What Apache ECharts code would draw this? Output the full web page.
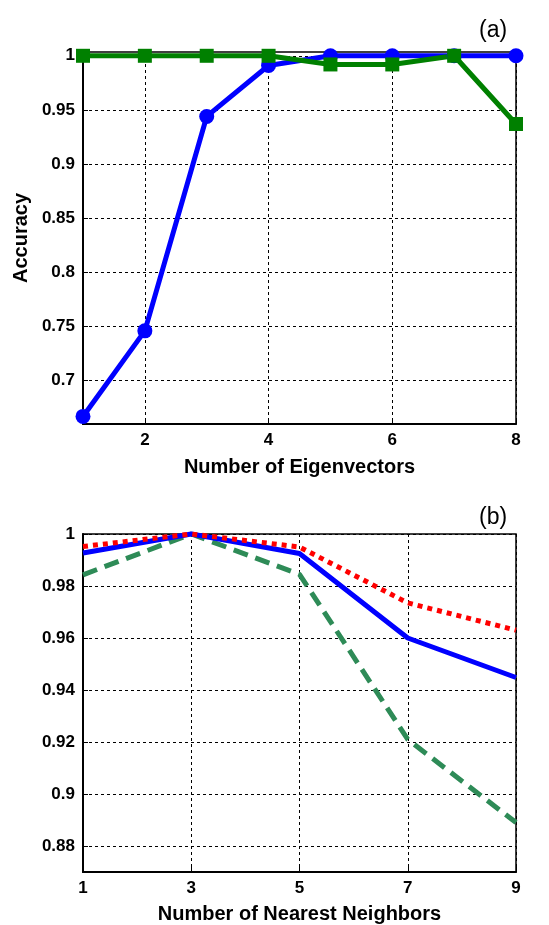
<!DOCTYPE html>
<html><head><meta charset="utf-8">
<script src="https://cdn.jsdelivr.net/npm/echarts@6/dist/echarts.min.js"></script>
<style>html,body{margin:0;padding:0;background:#fff}#c{width:549px;height:925px}</style>
</head><body><div id="c"></div>
<script>
// (a) data
const eigX = [1, 2, 3, 4, 5, 6, 7, 8];
const blueA = [0.667, 0.746, 0.944, 0.991, 1.0, 1.0, 1.0, 1.0];
const greenA = [1.0, 1.0, 1.0, 1.0, 0.992, 0.992, 1.0, 0.937];
const xTicksA = [2, 4, 6, 8];
const yTicksA = [0.7, 0.75, 0.8, 0.85, 0.9, 0.95, 1];
// (b) data
const knnX = [1, 3, 5, 7, 9];
const blueB = [0.9927, 1.0, 0.9925, 0.960, 0.9448];
const redB = [0.9952, 1.0, 0.995, 0.9735, 0.963];
const greenB = [0.9843, 1.0, 0.9845, 0.921, 0.889];
const xTicksB = [1, 3, 5, 7, 9];
const yTicksB = [0.88, 0.9, 0.92, 0.94, 0.96, 0.98, 1];

const FONT = 'Liberation Sans';
const pair = (xs, ys) => xs.map((x, i) => [x, ys[i]]);
const gridLine = {show: true, lineStyle: {color: '#000', width: 1, type: [3, 3]}};
const lbl = (vals, fmt) => ({customValues: vals, fontFamily: FONT, fontWeight: 'bold', fontSize: 17, color: '#000', margin: 8, formatter: fmt});
const tick = (vals) => ({show: true, inside: true, length: 5, customValues: vals, lineStyle: {color: '#000', width: 1}});
const axLine = {show: true, onZero: false, lineStyle: {color: '#000', width: 2}};
const nameStyle = {fontFamily: FONT, fontWeight: 'bold', fontSize: 20, color: '#000'};

const chart = echarts.init(document.getElementById('c'), null, {renderer: 'canvas'});
chart.setOption({
  animation: false,
  backgroundColor: '#fff',
  title: [
    {text: '(a)', left: 474, top: 14, textStyle: {fontFamily: FONT, fontWeight: 'normal', fontSize: 23, color: '#000'}},
    {text: '(b)', left: 474, top: 501, textStyle: {fontFamily: FONT, fontWeight: 'normal', fontSize: 23, color: '#000'}}
  ],
  grid: [
    {left: 83, right: 33, top: 52, height: 372, show: true, borderColor: '#000', borderWidth: 1.5, backgroundColor: 'transparent'},
    {left: 83, right: 33, top: 534, height: 339, show: true, borderColor: '#000', borderWidth: 1.5, backgroundColor: 'transparent'}
  ],
  xAxis: [
    {type: 'value', gridIndex: 0, min: 1, max: 8, name: 'Number of Eigenvectors', nameLocation: 'middle', nameGap: 33, nameTextStyle: nameStyle,
     axisLine: axLine, axisTick: tick(xTicksA), axisLabel: lbl(xTicksA, v => String(v)), splitLine: gridLine},
    {type: 'value', gridIndex: 1, min: 1, max: 9, name: 'Number of Nearest Neighbors', nameLocation: 'middle', nameGap: 32, nameTextStyle: nameStyle,
     axisLine: axLine, axisTick: tick(xTicksB), axisLabel: lbl(xTicksB, v => String(v)), splitLine: gridLine}
  ],
  yAxis: [
    {type: 'value', gridIndex: 0, min: 0.66, max: 1.0035, name: 'Accuracy', nameLocation: 'middle', nameGap: 51, nameTextStyle: nameStyle,
     axisLine: axLine, axisTick: tick(yTicksA), axisLabel: lbl(yTicksA, v => String(+v.toFixed(2))), splitLine: gridLine},
    {type: 'value', gridIndex: 1, min: 0.87, max: 1.0,
     axisLine: axLine, axisTick: tick(yTicksB), axisLabel: lbl(yTicksB, v => String(+v.toFixed(2))), splitLine: gridLine}
  ],
  series: [
    {type: 'line', xAxisIndex: 0, yAxisIndex: 0, data: pair(eigX, blueA), clip: false,
     symbol: 'circle', symbolSize: 15, itemStyle: {color: '#0000ff'}, lineStyle: {color: '#0000ff', width: 5}},
    {type: 'line', xAxisIndex: 0, yAxisIndex: 0, data: pair(eigX, greenA), clip: false,
     symbol: 'rect', symbolSize: 14, itemStyle: {color: '#008000'}, lineStyle: {color: '#008000', width: 5}},
    {type: 'line', xAxisIndex: 1, yAxisIndex: 1, data: pair(knnX, greenB), clip: false, showSymbol: false,
     lineStyle: {color: '#2e8b57', width: 5, type: [15, 8]}},
    {type: 'line', xAxisIndex: 1, yAxisIndex: 1, data: pair(knnX, blueB), clip: false, showSymbol: false,
     lineStyle: {color: '#0000ff', width: 5}},
    {type: 'line', xAxisIndex: 1, yAxisIndex: 1, data: pair(knnX, redB), clip: false, showSymbol: false,
     lineStyle: {color: '#ff0000', width: 5, type: [5, 5]}}
  ]
});
</script></body></html>
